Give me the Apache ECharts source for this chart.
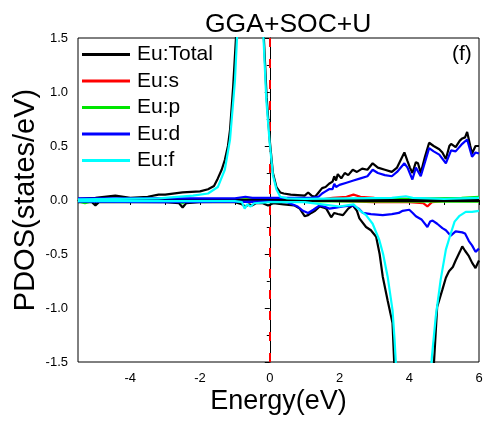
<!DOCTYPE html>
<html>
<head>
<meta charset="utf-8">
<script src="https://cdn.jsdelivr.net/npm/echarts@6/dist/echarts.min.js"></script>
<style>
  html, body { margin: 0; padding: 0; background: #fff; }
  #chart { width: 485px; height: 423px; }
</style>
</head>
<body>
<div id="chart"></div>
<script>
// energies (eV) and PDOS values (states/eV), spin up > 0, spin down < 0
var totalUpE = [-5.5, -5.0, -4.43, -4.0, -3.5, -3.19, -3.0, -2.5, -2.0, -1.77, -1.6, -1.49, -1.38, -1.29, -1.2, -1.14, -1.05, -0.97, -0.85, -0.6, -0.4, -0.25, -0.17, -0.09, 0.0, 0.09, 0.19, 0.3, 0.4, 0.6, 0.8, 1.0, 1.1, 1.2, 1.3, 1.4, 1.5, 1.6, 1.7, 1.8, 1.85, 1.9, 1.95, 2.05, 2.15, 2.25, 2.38, 2.5, 2.65, 2.8, 2.95, 3.1, 3.3, 3.5, 3.65, 3.8, 3.86, 3.95, 4.02, 4.09, 4.19, 4.25, 4.33, 4.45, 4.57, 4.7, 4.86, 4.95, 5.05, 5.15, 5.2, 5.33, 5.45, 5.52, 5.6, 5.66, 5.75, 5.8, 5.9, 6.0];
var totalUp = [0.01, 0.02, 0.04, 0.02, 0.03, 0.05, 0.05, 0.07, 0.08, 0.1, 0.13, 0.2, 0.28, 0.37, 0.5, 0.65, 1.05, 1.5, 3.0, 5.0, 4.5, 2.5, 1.5, 0.95, 0.55, 0.25, 0.12, 0.07, 0.06, 0.05, 0.045, 0.04, 0.07, 0.04, 0.03, 0.07, 0.11, 0.12, 0.15, 0.17, 0.22, 0.18, 0.24, 0.2, 0.25, 0.23, 0.28, 0.26, 0.29, 0.28, 0.34, 0.3, 0.28, 0.26, 0.3, 0.4, 0.44, 0.36, 0.3, 0.25, 0.35, 0.34, 0.25, 0.4, 0.53, 0.5, 0.47, 0.44, 0.38, 0.5, 0.52, 0.49, 0.55, 0.57, 0.58, 0.63, 0.5, 0.43, 0.5, 0.5];

var totalDnE = [-5.5, -5.1, -5.0, -4.9, -4.0, -3.0, -2.6, -2.5, -2.4, -2.0, -1.0, -0.8, -0.7, -0.6, -0.5, -0.4, -0.2, -0.05, 0.1, 0.4, 0.7, 0.86, 1.0, 1.1, 1.19, 1.3, 1.43, 1.55, 1.62, 1.76, 1.85, 1.95, 2.1, 2.25, 2.38, 2.5, 2.57, 2.76, 2.9, 3.05, 3.15, 3.24, 3.38, 3.52, 3.58, 3.8, 4.2, 4.6, 4.71, 4.8, 4.95, 5.05, 5.14, 5.25, 5.33, 5.45, 5.52, 5.6, 5.71, 5.8, 5.9, 6.0];
var totalDn = [-0.02, -0.02, -0.05, -0.02, -0.02, -0.02, -0.03, -0.07, -0.03, -0.02, -0.02, -0.04, -0.06, -0.04, -0.05, -0.03, -0.03, -0.05, -0.03, -0.04, -0.05, -0.08, -0.15, -0.14, -0.12, -0.1, -0.06, -0.07, -0.08, -0.16, -0.12, -0.13, -0.14, -0.08, -0.05, -0.1, -0.17, -0.25, -0.28, -0.34, -0.5, -0.71, -0.93, -1.14, -1.6, -2.5, -3.0, -2.0, -1.5, -0.99, -0.83, -0.72, -0.66, -0.62, -0.56, -0.48, -0.43, -0.47, -0.52, -0.58, -0.63, -0.56];

var sUpE = [-5.5, 1.5, 1.8, 2.2, 2.4, 2.6, 3.0, 4.0, 6.0];
var sUp = [0.005, 0.005, 0.02, 0.03, 0.05, 0.03, 0.02, 0.01, 0.01];
var sDnE = [-5.5, 1.5, 2.0, 3.0, 4.0, 4.4, 4.52, 4.65, 5.0, 6.0];
var sDn = [-0.005, -0.005, -0.01, -0.02, -0.02, -0.03, -0.06, -0.02, -0.01, -0.01];

var pUpE = [-5.5, 2.0, 4.0, 5.5, 6.0];
var pUp = [0.005, 0.008, 0.01, 0.02, 0.03];
var pDnE = [-5.5, -5.3, -5.1, -2.6, -2.5, -2.4, 6.0];
var pDn = [-0.01, -0.03, -0.01, -0.01, -0.03, -0.01, -0.015];

var dUpE = [-5.5, -1.0, -0.7, -0.5, 0.0, 0.5, 1.0, 1.2, 1.4, 1.5, 1.6, 1.7, 1.8, 1.85, 1.9, 2.0, 2.2, 2.4, 2.6, 2.8, 2.95, 3.1, 3.3, 3.5, 3.65, 3.86, 3.95, 4.09, 4.19, 4.33, 4.45, 4.57, 4.7, 4.86, 5.05, 5.2, 5.33, 5.52, 5.66, 5.8, 5.9, 6.0];
var dUp = [0.015, 0.015, 0.03, 0.02, 0.02, 0.02, 0.02, 0.02, 0.03, 0.06, 0.08, 0.1, 0.1, 0.15, 0.12, 0.14, 0.16, 0.18, 0.2, 0.22, 0.28, 0.25, 0.23, 0.22, 0.26, 0.34, 0.3, 0.19, 0.3, 0.22, 0.35, 0.48, 0.45, 0.42, 0.34, 0.46, 0.45, 0.52, 0.56, 0.4, 0.44, 0.43];
var dDnE = [-5.5, -3.0, 0.0, 0.5, 0.8, 0.95, 1.1, 1.25, 1.43, 1.55, 1.71, 1.9, 2.1, 2.38, 2.55, 2.67, 2.9, 3.24, 3.5, 3.7, 3.81, 4.0, 4.1, 4.19, 4.35, 4.52, 4.6, 4.67, 4.8, 4.95, 5.05, 5.19, 5.33, 5.52, 5.6, 5.71, 5.8, 5.9, 6.0];
var dDn = [-0.015, -0.02, -0.015, -0.02, -0.06, -0.1, -0.12, -0.09, -0.05, -0.06, -0.08, -0.07, -0.06, -0.05, -0.08, -0.12, -0.13, -0.14, -0.13, -0.12, -0.1, -0.09, -0.12, -0.15, -0.18, -0.25, -0.2, -0.19, -0.22, -0.26, -0.28, -0.33, -0.29, -0.3, -0.31, -0.38, -0.42, -0.48, -0.45];

var fUpE = [-5.5, -3.19, -2.2, -1.77, -1.49, -1.29, -1.14, -1.0, -0.94, -0.8, -0.6, -0.4, -0.25, -0.18, -0.1, 0.0, 0.09, 0.19, 0.3, 0.5, 1.0, 3.5, 3.9, 4.1, 5.0, 5.5, 6.0];
var fUp = [0.005, 0.015, 0.04, 0.06, 0.12, 0.28, 0.56, 1.1, 1.5, 3.0, 5.0, 4.5, 2.5, 1.5, 0.93, 0.52, 0.23, 0.1, 0.03, 0.015, 0.01, 0.02, 0.035, 0.02, 0.01, 0.015, 0.02];
var fDnE = [-5.5, -1.0, -0.8, -0.72, -0.65, -0.55, -0.45, 0.0, 0.5, 1.0, 1.5, 2.0, 2.4, 2.6, 2.76, 2.95, 3.14, 3.25, 3.38, 3.52, 3.58, 3.63, 3.8, 4.4, 4.6, 4.65, 4.76, 4.9, 5.05, 5.19, 5.3, 5.43, 5.62, 5.8, 6.0];
var fDn = [-0.01, -0.01, -0.02, -0.08, -0.04, -0.06, -0.03, -0.02, -0.02, -0.02, -0.04, -0.06, -0.04, -0.1, -0.14, -0.22, -0.37, -0.5, -0.71, -1.02, -1.3, -1.6, -3.0, -3.0, -1.7, -1.45, -1.08, -0.74, -0.46, -0.31, -0.2, -0.15, -0.11, -0.11, -0.1];

var names = ['Eu:Total', 'Eu:s', 'Eu:p', 'Eu:d', 'Eu:f'];
var colors = ['#000000', '#ff0000', '#00e600', '#0000ff', '#00ffff'];
var xLabels = [-4, -2, 0, 2, 4, 6];
var xTicks = [-5, -4, -3, -2, -1, 0, 1, 2, 3, 4, 5, 6];

var FONT = 'Liberation Sans, Arial, sans-serif';

function pairs(xs, ys) {
  var out = [];
  for (var i = 0; i < xs.length; i++) out.push([xs[i], ys[i]]);
  return out;
}

function mkLine(idx, xs, ys) {
  return {
    name: names[idx],
    type: 'line',
    data: pairs(xs, ys),
    symbol: 'none',
    showSymbol: false,
    clip: true,
    lineStyle: { color: colors[idx], width: 2.2 },
    itemStyle: { color: colors[idx] },
    z: 2 + idx
  };
}

var chart = echarts.init(document.getElementById('chart'), null, { renderer: 'canvas' });

var option = {
  animation: false,
  backgroundColor: '#fff',
  textStyle: { fontFamily: FONT },
  title: {
    text: 'GGA+SOC+U',
    left: 200,
    top: 6,
    textStyle: { fontFamily: FONT, fontSize: 26.5, fontWeight: 'normal', color: '#000' }
  },
  grid: {
    left: 78, right: 6, top: 38, bottom: 61,
    outerBoundsMode: 'none',
    show: true, borderColor: '#000', borderWidth: 1, backgroundColor: 'transparent'
  },
  legend: {
    data: names,
    orient: 'vertical',
    left: 82,
    top: 44,
    padding: 0,
    itemGap: 5.5,
    itemWidth: 48,
    itemHeight: 3,
    icon: 'rect',
    textStyle: { fontFamily: FONT, fontSize: 21, color: '#000', padding: [0, 0, 0, 2] }
  },
  graphic: [{
    type: 'text',
    left: 452,
    top: 44,
    style: { text: '(f)', font: '21px ' + FONT, fill: '#000' }
  }],
  xAxis: {
    type: 'value',
    min: -5.5,
    max: 6,
    name: 'Energy(eV)',
    nameLocation: 'middle',
    nameGap: 26,
    nameMoveOverlap: false,
    nameTextStyle: { fontFamily: FONT, fontSize: 27, color: '#000' },
    axisLine: { lineStyle: { color: '#000', width: 1 } },
    axisTick: { show: true, length: 5, customValues: xTicks, lineStyle: { color: '#000' } },
    axisLabel: { customValues: xLabels, margin: 10, fontFamily: FONT, fontSize: 13, color: '#000' },
    splitLine: { show: false }
  },
  yAxis: {
    type: 'value',
    min: -1.5,
    max: 1.5,
    interval: 0.5,
    name: 'PDOS(states/eV)',
    nameLocation: 'middle',
    nameRotate: 90,
    nameGap: 38,
    nameMoveOverlap: false,
    nameTextStyle: { fontFamily: FONT, fontSize: 29, color: '#000' },
    axisLine: { show: true, lineStyle: { color: '#000', width: 1 } },
    axisTick: { show: true, length: 5, lineStyle: { color: '#000' } },
    minorTick: { show: true, splitNumber: 2, length: 3, lineStyle: { color: '#000' } },
    axisLabel: {
      margin: 10, fontFamily: FONT, fontSize: 13, color: '#000',
      formatter: function (v) { return v.toFixed(1); }
    },
    splitLine: { show: false }
  },
  series: [
    mkLine(0, totalUpE, totalUp),
    mkLine(0, totalDnE, totalDn),
    mkLine(1, sUpE, sUp),
    mkLine(1, sDnE, sDn),
    mkLine(2, pUpE, pUp),
    mkLine(2, pDnE, pDn),
    mkLine(3, dUpE, dUp),
    mkLine(3, dDnE, dDn),
    mkLine(4, fUpE, fUp),
    mkLine(4, fDnE, fDn),
    {
      name: 'ref',
      type: 'line',
      data: [],
      z: 20,
      markLine: {
        silent: true,
        symbol: 'none',
        label: { show: false },
        animation: false,
        data: [
          { yAxis: 0, lineStyle: { color: '#000', width: 3, type: 'solid' } },
          { xAxis: 0, lineStyle: { color: '#ff0000', width: 2, type: [9, 12] } }
        ]
      }
    }
  ]
};

chart.setOption(option);
</script>
</body>
</html>
